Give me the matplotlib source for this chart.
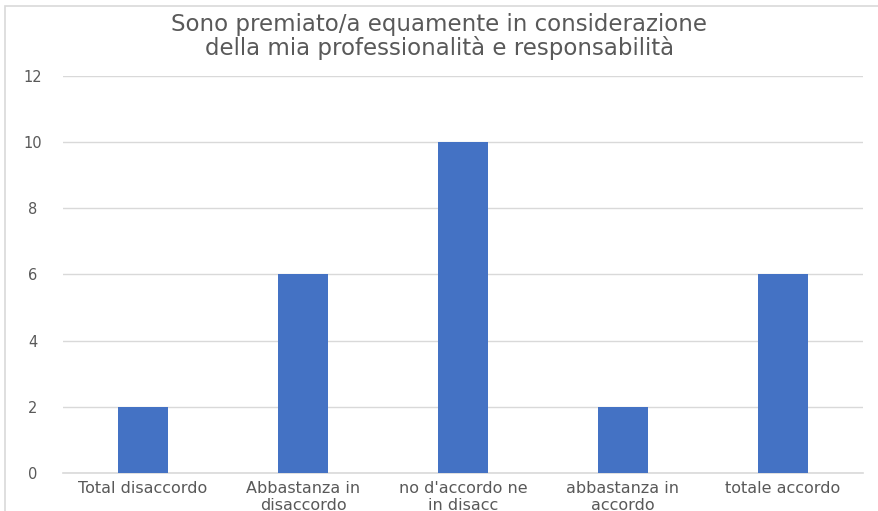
import matplotlib.pyplot as plt
from matplotlib.patches import Rectangle

# dati
categorie = ["Total disaccordo", "Abbastanza in\ndisaccordo", "no d'accordo ne\nin disacc",
             "abbastanza in\naccordo", "totale accordo"]
valori = [2, 6, 10, 2, 6]
y_ticks = [0, 2, 4, 6, 8, 10, 12]
titolo = "Sono premiato/a equamente in considerazione\ndella mia professionalità e responsabilità"

grigio = "#595959"
griglia = "#D9D9D9"

fig = plt.figure(figsize=(8.79, 5.11), dpi=100)
ax = fig.add_axes([0.0717, 0.0744, 0.910, 0.7769])

x = range(len(categorie))
ax.bar(x, valori, width=0.313, color="#4472C4", zorder=3)

ax.set_xlim(-0.5, len(categorie) - 0.5)
ax.set_ylim(0, 12)
ax.set_yticks(y_ticks)
ax.set_xticks(list(x))
ax.set_xticklabels(categorie, fontsize=11.5, color=grigio, linespacing=1.1)
ax.tick_params(axis="y", length=0, pad=22, labelsize=10.5, labelcolor=grigio)
ax.tick_params(axis="x", length=0, pad=6)
for lab in ax.get_yticklabels():
    lab.set_horizontalalignment("center")

ax.grid(axis="y", color=griglia, linewidth=1, zorder=0)
for s in ["top", "right", "left"]:
    ax.spines[s].set_visible(False)
ax.spines["bottom"].set_color(griglia)
ax.spines["bottom"].set_linewidth(1.2)

fig.text(0.5, 1 - 37 / 511, titolo, ha="center", va="center", fontsize=16.5,
         color=grigio, linespacing=1.0)

# bordo del grafico
fig.patches.append(Rectangle((5 / 879, -0.1), 1.2, 1.1 - 6 / 511, transform=fig.transFigure,
                             fill=False, edgecolor=griglia, linewidth=1.2))

plt.savefig("out.png", dpi=100)
plt.close()
